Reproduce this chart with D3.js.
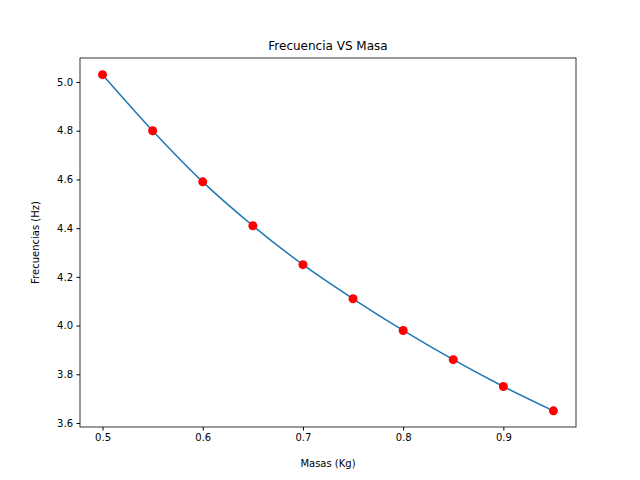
<!DOCTYPE html>
<html>
<head>
<meta charset="utf-8">
<script src="https://cdn.jsdelivr.net/npm/d3@7"></script>
<style>
  body { margin: 0; background: #fff; }
  text { font-family: "DejaVu Sans", sans-serif; }
</style>
</head>
<body>
<svg id="chart"></svg>
<script>
const masas = [0.5, 0.55, 0.6, 0.65, 0.7, 0.75, 0.8, 0.85, 0.9, 0.95];
const frecuencias = [5.03, 4.80, 4.59, 4.41, 4.25, 4.11, 3.98, 3.86, 3.75, 3.65];
const xTicks = [0.5, 0.6, 0.7, 0.8, 0.9];
const yTicks = [3.6, 3.8, 4.0, 4.2, 4.4, 4.6, 4.8, 5.0];

const width = 640;
const height = 480;
const plotLeft = 80, plotRight = 576, plotTop = 58, plotBottom = 427;

const svg = d3.select("#chart")
  .attr("width", width)
  .attr("height", height);

const xScale = d3.scaleLinear()
  .domain([0.4775, 0.9725])
  .range([plotLeft, plotRight]);

const yScale = d3.scaleLinear()
  .domain([3.5836, 5.0985])
  .range([plotBottom, plotTop]);

const xAxis = d3.axisBottom(xScale)
  .tickValues(xTicks)
  .tickFormat(d3.format(".1f"))
  .tickSize(3.5)
  .tickPadding(3.5);

const yAxis = d3.axisLeft(yScale)
  .tickValues(yTicks)
  .tickFormat(d3.format(".1f"))
  .tickSize(3.5)
  .tickPadding(3.5);

const gx = svg.append("g")
  .attr("transform", `translate(0, ${plotBottom})`)
  .call(xAxis);

const gy = svg.append("g")
  .attr("transform", `translate(${plotLeft}, 0)`)
  .call(yAxis);

[gx, gy].forEach(g => {
  g.select(".domain").remove();
  g.selectAll("text").attr("font-size", 10).attr("fill", "#000");
  g.selectAll("line").attr("stroke", "#000");
});

svg.append("rect")
  .attr("x", plotLeft)
  .attr("y", plotTop)
  .attr("width", plotRight - plotLeft)
  .attr("height", plotBottom - plotTop)
  .attr("fill", "none")
  .attr("stroke", "#000")
  .attr("stroke-width", 0.8);

const points = masas.map((m, i) => [m, frecuencias[i]]);

const line = d3.line()
  .x(d => xScale(d[0]))
  .y(d => yScale(d[1]))
  .curve(d3.curveMonotoneX);

svg.append("path")
  .datum(points)
  .attr("d", line)
  .attr("fill", "none")
  .attr("stroke", "#1f77b4")
  .attr("stroke-width", 1.5);

svg.selectAll(".dot")
  .data(points)
  .join("circle")
  .attr("class", "dot")
  .attr("cx", d => xScale(d[0]))
  .attr("cy", d => yScale(d[1]))
  .attr("r", 4.5)
  .attr("fill", "red");

svg.append("text")
  .attr("x", (plotLeft + plotRight) / 2)
  .attr("y", plotTop - 8)
  .attr("text-anchor", "middle")
  .attr("font-size", 12)
  .text("Frecuencia VS Masa");

svg.append("text")
  .attr("x", (plotLeft + plotRight) / 2)
  .attr("y", 467)
  .attr("text-anchor", "middle")
  .attr("font-size", 10)
  .text("Masas (Kg)");

svg.append("text")
  .attr("transform", `translate(39, ${(plotTop + plotBottom) / 2}) rotate(-90)`)
  .attr("text-anchor", "middle")
  .attr("font-size", 10)
  .text("Frecuencias (Hz)");
</script>
</body>
</html>
